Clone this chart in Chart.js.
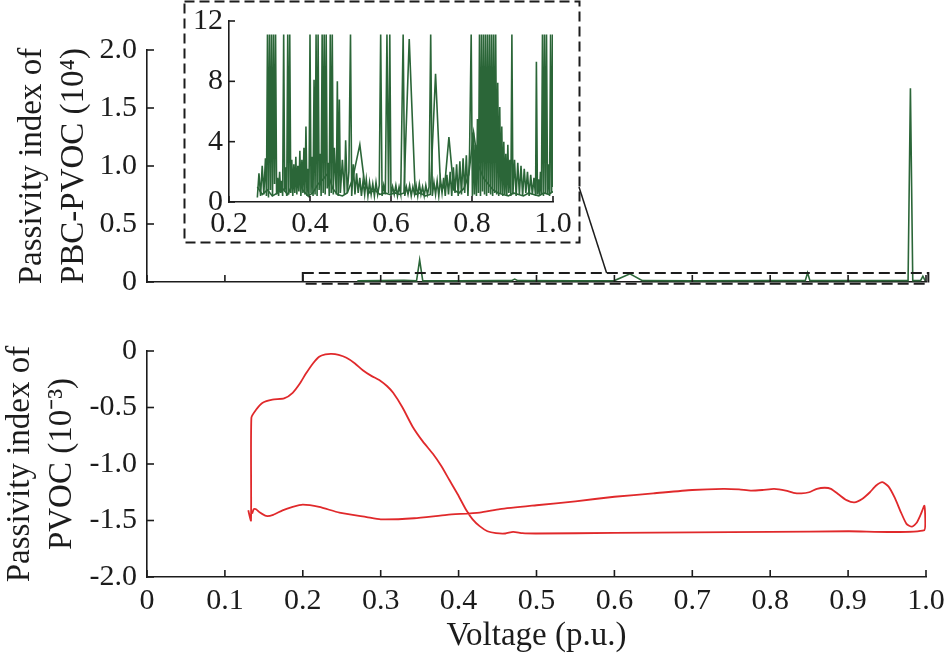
<!DOCTYPE html>
<html><head><meta charset="utf-8">
<script src="https://cdn.jsdelivr.net/npm/chart.js@4/dist/chart.umd.min.js"></script>
<style>
html,body{margin:0;padding:0;background:#fff;}
#wrap{position:relative;width:948px;height:666px;overflow:hidden;}
canvas{position:absolute;display:block;}
#top{left:0;top:0;}
#bot{left:0;top:300px;}
#ins{left:183px;top:0;}
</style></head>
<body><div id="wrap">
<canvas id="top" width="948" height="300"></canvas>
<canvas id="bot" width="948" height="366"></canvas>
<canvas id="ins" width="398" height="244"></canvas>
</div>
<script>
// ---------- data ----------
// Top panel: passivity index of PBC-PVOC (x10^4)
const mainVoltage = [0.270,0.300,0.330,0.346,0.350,0.354,0.400,0.450,0.468,0.472,0.476,0.550,0.600,0.620,0.636,0.700,0.800,0.845,0.848,0.851,0.900,0.950,0.977,0.980,0.983,0.993,0.996,0.999];
const mainIndex   = [0.010,0.012,0.015,0.010,0.190,0.010,0.010,0.012,0.012,0.025,0.012,0.010,0.012,0.070,0.012,0.010,0.012,0.012,0.080,0.012,0.012,0.012,0.012,1.670,0.012,0.012,0.050,0.010];

// Inset: dense trace
const insetVoltageA = [
 0.270,0.274,0.278,0.282,0.286,0.290,0.2925,0.295,0.2975,0.300,
 0.3025,0.305,0.3075,0.310,0.3125,0.315,0.3175,0.320,0.3225,0.325,
 0.3275,0.330,0.3325,0.335,0.3375,0.340,0.3425,0.345,0.3475,0.350,
 0.3525,0.355,0.3575,0.360,0.3625,0.365,0.3675,0.370,0.3725,0.375,
 0.3775,0.380,0.3825,0.385,0.3875,0.390,0.3925,0.395,0.3975,0.400,
 0.4025,0.405,0.4075,0.410,0.4125,0.415,0.4175,0.420,0.4225,0.425,
 0.4275,0.430,0.4325,0.435,0.4375,0.440,0.4425,0.445,0.4475,0.450,
 0.4525,0.455,0.4575,0.460,0.465,0.4675,0.470,0.4725,0.475,0.480,
 0.485,0.488,0.492,0.496,0.500,0.503,0.507,0.511,0.515,0.519,
 0.523,0.527,0.531,0.535,0.539,0.543,0.547,0.551,0.555,0.559,
 0.563,0.567,0.571,0.5745,0.578,0.582,0.586,0.590,0.594,0.597,
 0.600,0.604,0.608,0.612,0.616,0.620,0.624,0.630,0.634,0.638,
 0.642,0.646,0.650,0.654,0.658,0.662,0.666,0.670,0.674,0.678,
 0.682,0.686,0.690,0.694,0.698,0.702,0.706,0.710,0.714,0.718,
 0.722,0.726,0.730,0.734,0.738,0.742,0.746,0.750,0.754,0.758,
 0.762,0.766,0.770,0.774,0.778,0.782,0.786,0.790,0.794,0.798,
 0.801,0.8035,0.806,0.8085,0.811,0.8135,0.816,0.8185,0.821,0.8235,
 0.826,0.8285,0.831,0.8335,0.836,0.8385,0.841,0.8435,0.846,0.8485,
 0.851,0.8535,0.856,0.8585,0.861,0.8635,0.866,0.8685,0.871,0.8735,
 0.876,0.8785,0.881,0.8835,0.886,0.8885,0.891,0.8935,0.896,0.8985,
 0.901,0.905,0.909,0.913,0.917,0.921,0.925,0.929,0.933,0.937,
 0.941,0.945,0.949,0.953,0.957,0.959,0.9615,0.964,0.9665,0.969,
 0.9715,0.974,0.9765,0.979,0.9815,0.984,0.9865,0.989,0.9915,0.994,
 0.9965,0.999,1.000];
const insetIndexA = [
 0.3,1.9,0.4,2.4,0.5,2.9,0.4,11.1,0.3,11.1,
 0.8,11.1,0.4,11.1,1.2,11.1,0.5,1.6,0.4,2.0,
 0.6,1.4,0.4,11.1,0.7,2.3,0.4,11.1,0.5,11.1,
 0.6,2.8,0.4,2.5,0.6,3.0,0.5,2.4,0.7,3.4,
 0.4,2.8,0.6,3.6,0.5,5.0,0.4,2.2,0.3,11.1,
 0.6,3.0,0.4,8.1,0.5,11.1,0.4,11.1,0.8,3.2,
 0.4,11.1,0.6,11.1,0.5,11.1,0.9,2.6,0.4,11.1,
 0.6,11.1,0.5,3.6,0.5,8.0,0.4,6.8,0.6,2.8,
 0.5,4.1,0.6,2.0,11.1,0.4,2.5,0.5,1.9,0.6,
 1.6,0.4,1.4,0.5,1.5,0.4,1.3,0.5,1.2,0.4,
 1.3,0.5,1.1,11.1,0.4,1.1,0.5,11.1,0.6,11.1,
 0.4,1.0,0.5,1.1,0.4,1.0,0.5,11.1,0.4,1.0,
 0.5,1.1,0.4,1.0,0.5,1.1,0.4,1.2,0.5,1.0,
 0.4,1.1,0.5,1.0,11.1,0.4,1.3,0.5,1.4,0.4,
 1.5,0.6,1.6,0.4,1.8,0.5,2.0,0.4,2.3,0.6,
 2.5,0.4,2.7,0.5,2.9,0.6,3.1,0.4,3.3,11.1,
 0.4,4.6,0.5,3.8,0.4,5.5,0.6,11.1,0.4,11.1,
 0.7,11.1,0.5,11.1,0.4,11.1,0.6,11.1,0.5,11.1,
 0.4,11.1,0.6,11.1,0.5,7.9,0.4,6.3,0.6,5.0,
 0.4,4.0,0.5,3.2,0.4,3.8,0.6,2.8,0.4,11.1,
 0.5,2.8,0.4,2.6,0.5,2.4,0.4,2.2,0.6,2.0,
 0.4,1.8,0.5,1.6,0.4,9.3,0.5,1.5,0.4,2.0,
 0.5,11.1,0.4,11.1,0.6,11.1,0.5,2.5,0.4,11.1,
 0.6,11.1,1.0];

// Inset: coarse trace
const insetVoltageB = [0.270,0.282,0.295,0.307,0.320,0.332,0.345,0.357,0.370,0.382,0.395,0.407,0.420,0.432,0.444,0.456,0.468,0.480,0.492,0.505,0.523,0.535,0.548,0.560,0.572,0.585,0.597,0.610,0.622,0.632,0.645,0.660,0.672,0.685,0.697,0.710,0.722,0.732,0.743,0.755,0.768,0.780,0.792,0.804,0.815,0.828,0.840,0.852,0.865,0.877,0.890,0.902,0.915,0.927,0.940,0.952,0.965,0.977,0.990,1.000];
const insetIndexB   = [1.0,0.5,0.8,0.4,0.6,0.9,0.5,1.2,1.9,0.8,0.4,0.6,1.2,1.5,1.9,0.9,0.5,0.4,0.6,1.5,3.8,1.2,0.6,0.8,0.5,0.6,0.5,0.6,0.5,0.6,10.8,0.5,0.6,0.4,0.5,8.5,1.2,0.9,4.3,0.8,0.6,0.9,1.8,4.6,2.5,1.6,1.2,0.8,0.6,0.5,0.4,0.6,0.5,0.4,0.6,0.5,0.4,0.6,0.5,0.7];

// Bottom panel: passivity index of PVOC (x10^-3), traversal order
const pvocVoltage = [0.130,0.1335,0.134,0.140,0.148,0.161,0.176,0.187,0.196,0.204,0.213,0.221,0.229,0.237,0.246,0.256,0.267,0.277,0.288,0.299,0.308,0.316,0.328,0.341,0.354,0.367,0.378,0.388,0.399,0.410,0.418,0.427,0.437,0.448,0.460,0.470,0.482,0.500,0.600,0.700,0.800,0.900,0.998,0.998,0.993,0.988,0.982,0.975,0.968,0.960,0.952,0.944,0.936,0.928,0.918,0.908,0.898,0.888,0.878,0.870,0.860,0.850,0.840,0.830,0.820,0.805,0.790,0.775,0.760,0.740,0.700,0.650,0.600,0.550,0.500,0.453,0.427,0.385,0.343,0.300,0.282,0.247,0.221,0.200,0.187,0.174,0.162,0.153,0.145,0.140,0.137,0.135];
const pvocIndex   = [-1.41,-1.50,-0.59,-0.52,-0.46,-0.43,-0.42,-0.37,-0.29,-0.20,-0.11,-0.05,-0.03,-0.025,-0.035,-0.06,-0.11,-0.17,-0.22,-0.26,-0.31,-0.37,-0.50,-0.67,-0.80,-0.91,-1.02,-1.14,-1.27,-1.41,-1.49,-1.55,-1.595,-1.612,-1.615,-1.600,-1.612,-1.615,-1.610,-1.605,-1.600,-1.595,-1.585,-1.37,-1.45,-1.52,-1.555,-1.53,-1.43,-1.30,-1.20,-1.16,-1.19,-1.25,-1.31,-1.34,-1.32,-1.27,-1.22,-1.21,-1.22,-1.25,-1.26,-1.255,-1.235,-1.22,-1.23,-1.235,-1.225,-1.22,-1.23,-1.26,-1.29,-1.33,-1.365,-1.40,-1.43,-1.45,-1.48,-1.49,-1.47,-1.43,-1.38,-1.36,-1.38,-1.41,-1.45,-1.46,-1.43,-1.40,-1.40,-1.44];

// Tick values
const topYTicks = [0,0.5,1.0,1.5,2.0];
const botYTicks = [-2.0,-1.5,-1.0,-0.5,0];
const insetYTicks = [0,4,8,12];

// ---------- style ----------
const FONT = "'Liberation Serif','Times New Roman',serif";
const AX = '#1c1c1c';
const GREEN = '#2b6638';
const RED = '#e0292b';
const TICKFONT = {family: FONT, size: 30};
const TITLEFONT = {family: FONT, size: 33, lineHeight: 1.25};

const pts = (xs, ys) => xs.map((x, i) => ({x, y: ys[i]}));
const fmt1 = v => (Math.abs(v) < 1e-9 ? '0' : Number(v).toFixed(1));
const noPad = s => { s.paddingTop = 0; s.paddingBottom = 0; s.paddingLeft = 0; s.paddingRight = 0; };

const inwardTicks = {
  id: 'inwardTicks',
  afterDatasetsDraw(chart, args, opts) {
    const ctx = chart.ctx, a = chart.chartArea, L = opts.len || 7;
    ctx.save();
    ctx.strokeStyle = AX; ctx.lineWidth = 1.6;
    Object.values(chart.scales).forEach(s => {
      s.ticks.forEach(t => {
        const p = s.getPixelForValue(t.value);
        ctx.beginPath();
        if (s.isHorizontal()) { ctx.moveTo(p, a.bottom); ctx.lineTo(p, a.bottom - L); }
        else { ctx.moveTo(a.left, p); ctx.lineTo(a.left + L, p); }
        ctx.stroke();
      });
    });
    ctx.restore();
  }
};

const INSET = {left: 183, top: 0, w: 398, h: 244};
const ZOOMBOX = {x0: 0.2, x1: 1.003, y0: -0.016, y1: 0.077};

const zoomDecor = {
  id: 'zoomDecor',
  afterDraw(chart) {
    const ctx = chart.ctx, xs = chart.scales.x, ys = chart.scales.y;
    const x0 = xs.getPixelForValue(ZOOMBOX.x0), x1 = xs.getPixelForValue(ZOOMBOX.x1);
    const y0 = ys.getPixelForValue(ZOOMBOX.y0), y1 = ys.getPixelForValue(ZOOMBOX.y1);
    ctx.save();
    ctx.strokeStyle = AX; ctx.lineWidth = 2;
    ctx.setLineDash([11, 5]);
    ctx.strokeRect(x0, y1, x1 - x0, y0 - y1);
    ctx.setLineDash([]);
    ctx.lineWidth = 1.5;
    ctx.beginPath();
    ctx.moveTo(INSET.left + INSET.w - 2, 187);
    ctx.lineTo(xs.getPixelForValue(0.59), y1);
    ctx.stroke();
    ctx.restore();
  }
};

const insetFrame = {
  id: 'insetFrame',
  afterDraw(chart) {
    const ctx = chart.ctx;
    ctx.save();
    ctx.strokeStyle = AX; ctx.lineWidth = 2;
    ctx.setLineDash([10, 5]);
    ctx.strokeRect(1.5, 1.5, chart.width - 3, chart.height - 3);
    ctx.restore();
  }
};

Chart.defaults.font.family = FONT;
Chart.defaults.color = AX;

const common = {
  responsive: false, animation: false, devicePixelRatio: 1,
  events: [],
  plugins: {legend: {display: false}, tooltip: {enabled: false}},
};

// ---------- top chart ----------
new Chart(document.getElementById('top'), {
  type: 'scatter',
  data: {datasets: [{data: pts(mainVoltage, mainIndex), showLine: true, borderColor: GREEN, borderWidth: 1.6, pointRadius: 0, tension: 0}]},
  options: Object.assign({}, common, {
    layout: {autoPadding: false, padding: {left: 0, right: 22, top: 50, bottom: 18}},
    scales: {
      x: {type: 'linear', min: 0, max: 1, ticks: {display: false, stepSize: 0.1},
          grid: {display: false, drawTicks: false}, border: {display: true, color: AX, width: 1.6},
          afterFit(s) { s.height = 0; noPad(s); }},
      y: {min: 0, max: 2, afterBuildTicks(s) { s.ticks = topYTicks.map(v => ({value: v})); },
          afterFit(s) { s.width = 147; noPad(s); },
          ticks: {font: TICKFONT, color: AX, padding: 10, callback: fmt1},
          grid: {display: false, drawTicks: false}, border: {display: true, color: AX, width: 1.6},
          title: {display: true, text: ['Passivity index of', 'PBC-PVOC (10\u2074)'], font: TITLEFONT, color: AX, padding: {top: 12, bottom: 0}}}
    },
    plugins: Object.assign({}, common.plugins, {inwardTicks: {len: 7}})
  }),
  plugins: [inwardTicks, zoomDecor]
});

// ---------- inset chart ----------
new Chart(document.getElementById('ins'), {
  type: 'scatter',
  data: {datasets: [
    {data: pts(insetVoltageA, insetIndexA), showLine: true, borderColor: GREEN, borderWidth: 1.6, pointRadius: 0, tension: 0},
    {data: pts(insetVoltageB, insetIndexB), showLine: true, borderColor: GREEN, borderWidth: 1.6, pointRadius: 0, tension: 0}
  ]},
  options: Object.assign({}, common, {
    layout: {autoPadding: false, padding: {left: 0, right: 28, top: 21, bottom: 0}},
    scales: {
      x: {type: 'linear', min: 0.2, max: 1.0, ticks: {stepSize: 0.2, font: TICKFONT, color: AX, padding: 4, callback: fmt1, maxRotation: 0},
          grid: {display: false, drawTicks: false}, border: {display: true, color: AX, width: 1.6},
          afterFit(s) { s.height = 42; noPad(s); }},
      y: {min: 0, max: 12, afterBuildTicks(s) { s.ticks = insetYTicks.map(v => ({value: v})); },
          afterFit(s) { s.width = 46; noPad(s); },
          ticks: {font: TICKFONT, color: AX, padding: 6, callback: v => String(v)},
          grid: {display: false, drawTicks: false}, border: {display: true, color: AX, width: 1.6}}
    },
    plugins: Object.assign({}, common.plugins, {inwardTicks: {len: 6}})
  }),
  plugins: [inwardTicks, insetFrame]
});

// ---------- bottom chart ----------
new Chart(document.getElementById('bot'), {
  type: 'scatter',
  data: {datasets: [{data: pts(pvocVoltage, pvocIndex), showLine: true, borderColor: RED, borderWidth: 1.8, pointRadius: 0, tension: 0.2}]},
  options: Object.assign({}, common, {
    layout: {autoPadding: false, padding: {left: 0, right: 22, top: 51, bottom: 0}},
    scales: {
      x: {type: 'linear', min: 0, max: 1, ticks: {stepSize: 0.1, font: TICKFONT, color: AX, padding: 6, callback: fmt1, maxRotation: 0, autoSkip: false},
          grid: {display: false, drawTicks: false}, border: {display: true, color: AX, width: 1.6},
          afterFit(s) { s.height = 89; noPad(s); },
          title: {display: true, text: 'Voltage (p.u.)', font: TITLEFONT, color: AX, padding: {top: 0, bottom: 9}}},
      y: {min: -2, max: 0, afterBuildTicks(s) { s.ticks = botYTicks.map(v => ({value: v})); },
          afterFit(s) { s.width = 147; noPad(s); },
          ticks: {font: TICKFONT, color: AX, padding: 10, callback: fmt1},
          grid: {display: false, drawTicks: false}, border: {display: true, color: AX, width: 1.6},
          title: {display: true, text: ['Passivity index of', 'PVOC (10\u207B\u00B3)'], font: TITLEFONT, color: AX, padding: {top: 0, bottom: 0}}}
    },
    plugins: Object.assign({}, common.plugins, {inwardTicks: {len: 7}})
  }),
  plugins: [inwardTicks]
});
</script>
</body></html>
